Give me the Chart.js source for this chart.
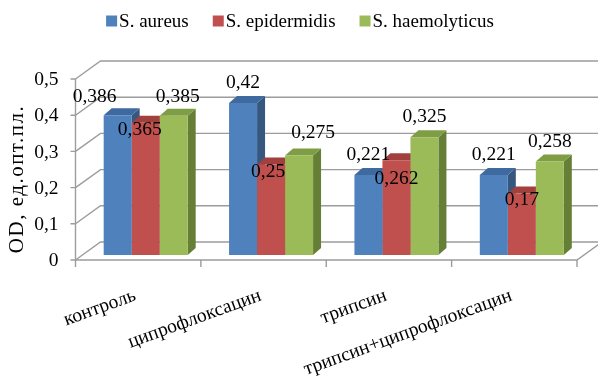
<!DOCTYPE html>
<html>
<head>
<meta charset="utf-8">
<script src="https://cdn.jsdelivr.net/npm/chart.js@4/dist/chart.umd.min.js"></script>
<style>
  html, body { margin: 0; padding: 0; background: #ffffff; }
  canvas { display: block; }
</style>
</head>
<body>
<canvas id="chart" width="598" height="378"></canvas>
<script>
// Biofilm optical density per treatment, three staphylococcal species
const categories = ['контроль', 'ципрофлоксацин', 'трипсин', 'трипсин+ципрофлоксацин'];
const seriesNames = ['S. aureus', 'S. epidermidis', 'S. haemolyticus'];
const aureus = [0.386, 0.42, 0.221, 0.221];
const epidermidis = [0.365, 0.25, 0.262, 0.17];
const haemolyticus = [0.385, 0.275, 0.325, 0.258];
const axisTitle = 'OD, ед.опт.пл.';
const yMax = 0.5;
const yStep = 0.1;

// Face colours of the boxes: front, top, side
const palette = [
  { front: '#4F81BD', top: '#3F6AA0', side: '#36587F' },
  { front: '#C0504D', top: '#A2403D', side: '#863533' },
  { front: '#9BBB59', top: '#7F9D45', side: '#667F36' }
];

// Label nudges (px) where a value label sits away from the default spot above its bar
const labelNudge = {
  '0-0': [-23, 2], '1-0': [-6, 27], '2-0': [4, 1],
  '1-1': [-3, 27], '2-1': [14, -3],
  '1-2': [0, 39],
  '1-3': [0, 26]
};

const FONT = '"Liberation Serif", "Times New Roman", serif';
const fmt = v => String(Math.round(v * 1000) / 1000).replace('.', ',');

// geometry of the 3D frame
const AX = { dx: -7.5, dy: 5 };     // front plane of the axes relative to the bar fronts
const WALL = { dx: 25, dy: -18 };   // depth of the walls
const BOX = { dx: 8, dy: -7 };      // depth of each bar

function poly(ctx, pts, fill) {
  ctx.beginPath();
  ctx.moveTo(pts[0][0], pts[0][1]);
  for (let i = 1; i < pts.length; i++) ctx.lineTo(pts[i][0], pts[i][1]);
  ctx.closePath();
  ctx.fillStyle = fill;
  ctx.fill();
}

const frame3d = {
  id: 'frame3d',
  beforeDatasetsDraw(chart) {
    const { ctx, chartArea: a, scales: { x, y } } = chart;
    const W = chart.width;
    const ay = v => y.getPixelForValue(v) + AX.dy;
    const left = a.left + AX.dx;
    const right = a.right + AX.dx;
    ctx.save();
    ctx.strokeStyle = '#9c9c9c';
    ctx.lineWidth = 1.4;

    // back wall gridlines, side wall lines, ticks and value labels
    ctx.font = '19.5px ' + FONT;
    ctx.fillStyle = '#000';
    ctx.textAlign = 'right';
    ctx.textBaseline = 'middle';
    y.ticks.forEach(t => {
      const py = ay(t.value);
      ctx.beginPath();
      ctx.moveTo(left, py);
      ctx.lineTo(left + WALL.dx, py + WALL.dy);
      ctx.lineTo(W + 5, py + WALL.dy);
      ctx.moveTo(left - 5, py);
      ctx.lineTo(left, py);
      ctx.stroke();
      ctx.fillText(fmt(t.value), left - 17, py + 1);
    });

    // vertical axis line
    ctx.beginPath();
    ctx.moveTo(left, ay(y.max));
    ctx.lineTo(left, ay(0));
    ctx.stroke();

    // floor: front and right edges
    ctx.beginPath();
    ctx.moveTo(left, ay(0));
    ctx.lineTo(right, ay(0));
    ctx.lineTo(right + WALL.dx, ay(0) + WALL.dy);
    ctx.stroke();

    // category ticks and rotated category labels
    const n = categories.length;
    const step = (right - left) / n;
    ctx.beginPath();
    for (let i = 0; i <= n; i++) {
      const px = left + i * step;
      ctx.moveTo(px, ay(0));
      ctx.lineTo(px, ay(0) + 7);
    }
    ctx.stroke();
    ctx.textAlign = 'right';
    ctx.textBaseline = 'middle';
    for (let i = 0; i < n; i++) {
      const px = x.getPixelForValue(i) + AX.dx - 3;
      ctx.save();
      ctx.translate(px, ay(0) + 35);
      ctx.rotate(-20 * Math.PI / 180);
      ctx.fillText(categories[i], 0, 0);
      ctx.restore();
    }

    // top and side faces of the bars, painted left to right
    const faces = [];
    chart.data.datasets.forEach((ds, di) => {
      chart.getDatasetMeta(di).data.forEach(el => faces.push({ el, di }));
    });
    faces.sort((p, q) => p.el.x - q.el.x);
    faces.forEach(({ el, di }) => {
      const x0 = el.x - el.width / 2, x1 = el.x + el.width / 2;
      const top = el.y, base = el.base;
      poly(ctx, [[x1, top], [x1 + BOX.dx, top + BOX.dy], [x1 + BOX.dx, base + BOX.dy], [x1, base]], palette[di].side);
      poly(ctx, [[x0, top], [x1, top], [x1 + BOX.dx, top + BOX.dy], [x0 + BOX.dx, top + BOX.dy]], palette[di].top);
    });

    // axis title
    ctx.save();
    ctx.translate(17, 179);
    ctx.rotate(-Math.PI / 2);
    ctx.textAlign = 'center';
    ctx.textBaseline = 'middle';
    ctx.fillStyle = '#000';
    ctx.font = '21px ' + FONT;
    if ('letterSpacing' in ctx) ctx.letterSpacing = '1.5px';
    ctx.fillText(axisTitle, 0, 0);
    ctx.restore();

    ctx.restore();
  },
  afterDatasetsDraw(chart) {
    const { ctx } = chart;
    ctx.save();
    ctx.font = '19.5px ' + FONT;
    ctx.fillStyle = '#000';
    ctx.textAlign = 'center';
    ctx.textBaseline = 'middle';
    chart.data.datasets.forEach((ds, di) => {
      chart.getDatasetMeta(di).data.forEach((el, i) => {
        const nudge = labelNudge[di + '-' + i] || [0, 0];
        ctx.fillText(fmt(ds.data[i]), el.x + nudge[0], el.y - 20 + nudge[1]);
      });
    });

    // legend across the top
    ctx.font = '19px ' + FONT;
    const gap = 24, box = 11, pad = 2;
    const widths = chart.data.datasets.map(ds => box + pad + ctx.measureText(ds.label).width);
    const total = widths.reduce((s, w) => s + w, 0) + gap * (widths.length - 1);
    let lx = 300 - total / 2;
    const ly = 21;
    ctx.textAlign = 'left';
    chart.data.datasets.forEach((ds, di) => {
      ctx.fillStyle = palette[di].front;
      ctx.fillRect(lx, ly - box / 2, box, box);
      ctx.fillStyle = '#000';
      ctx.fillText(ds.label, lx + box + pad, ly + 1);
      lx += widths[di] + gap;
    });
    ctx.restore();
  }
};

const seriesValues = [aureus, epidermidis, haemolyticus];

new Chart(document.getElementById('chart'), {
  type: 'bar',
  data: {
    labels: categories,
    datasets: seriesValues.map((vals, i) => ({
      label: seriesNames[i],
      data: vals,
      backgroundColor: palette[i].front,
      borderWidth: 0,
      barPercentage: 1,
      categoryPercentage: 0.67
    }))
  },
  options: {
    responsive: false,
    animation: false,
    layout: { padding: { left: 83, right: 13.5, top: 74, bottom: 123 } },
    scales: {
      x: { display: false },
      y: { display: false, min: 0, max: yMax, ticks: { stepSize: yStep } }
    },
    plugins: {
      legend: { display: false },
      tooltip: { enabled: false }
    }
  },
  plugins: [frame3d]
});
</script>
</body>
</html>
